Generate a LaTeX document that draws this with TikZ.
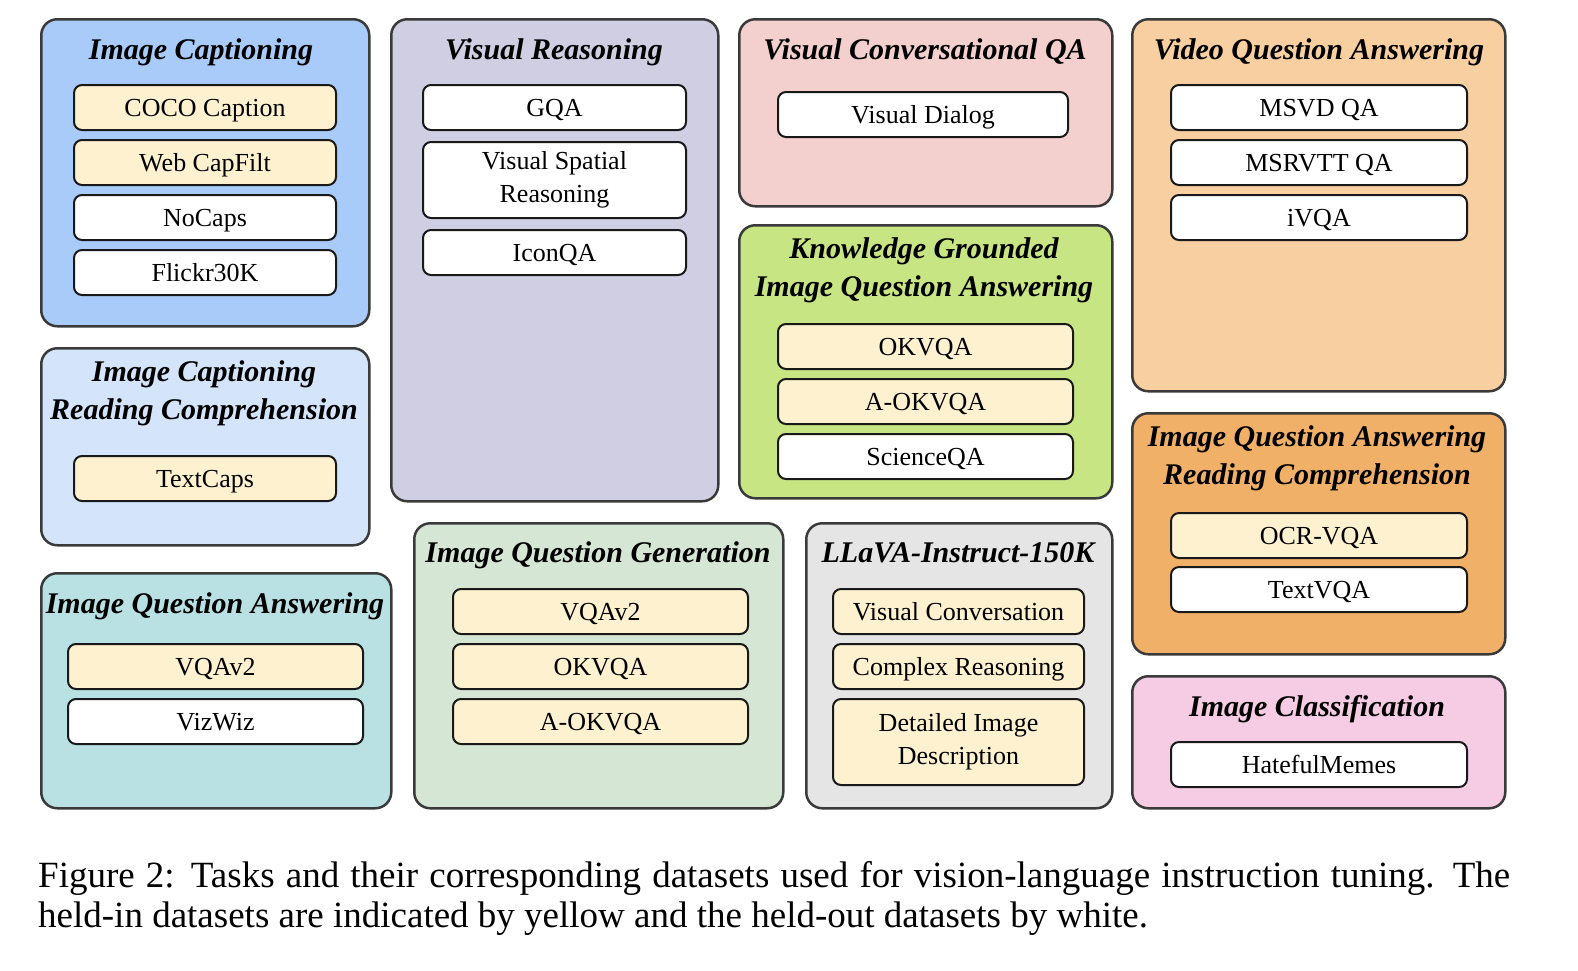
\documentclass[tikz,border=0pt]{standalone}
\usepackage{fontspec}
\setmainfont{Liberation Serif}
\newcommand\itemfnt{\fontsize{26}{33}\selectfont}
\newcommand\ttlfnt{\fontsize{30}{38}\selectfont\bfseries\itshape}
\definecolor{cIC}{HTML}{A9CBF9}
\definecolor{cICRC}{HTML}{D4E5FB}
\definecolor{cIQA}{HTML}{B9E1E4}
\definecolor{cVR}{HTML}{D0CEE2}
\definecolor{cIQG}{HTML}{D6E6D4}
\definecolor{cVCQA}{HTML}{F3CFCD}
\definecolor{cKG}{HTML}{C8E584}
\definecolor{cLL}{HTML}{E5E5E5}
\definecolor{cVQA}{HTML}{F7CFA0}
\definecolor{cIQARC}{HTML}{F1B068}
\definecolor{cICL}{HTML}{F6CBE4}
\definecolor{cY}{HTML}{FDF1CF}
\definecolor{cBorder}{HTML}{3A3A3A}
\tikzset{
  panel/.style={draw=cBorder, line width=2.5pt, rounded corners=16pt, inner sep=0pt, anchor=north west},
  itembase/.style={draw=black!90, line width=2pt, rounded corners=8pt, inner sep=0pt, font=\itemfnt, align=center},
  item/.style={itembase, text height=18pt, text depth=0pt},
  ttl/.style={font=\ttlfnt, align=center, inner sep=0pt},
  capt/.style={font=\fontsize{37}{40}\selectfont, text width=1472pt, align=justify, inner sep=0pt, anchor=base west}
}
% panel: name, x1, y1, x2, y2, colour
\newcommand\mypanel[6]{\node[panel, fill=#6, minimum width={#4-#2}, minimum height={#5-#3}] (#1) at (#2,#3) {};}
% item: name, x1, y1, x2, y2, fill, text
\newcommand\myitem[7]{\node[item, fill=#6, minimum width={#4-#2}, minimum height={#5-#3}] (#1) at ({(#2+#4)/2},{(#3+#5)/2}) {#7};}
\begin{document}
\begin{tikzpicture}[x=1pt, y=-1pt]
\useasboundingbox (0,0) rectangle (1578,970);
% panels
\mypanel{pIC}{40}{18}{368}{325}{cIC}
\mypanel{pICRC}{40}{347}{368}{544}{cICRC}
\mypanel{pIQA}{40}{572}{390}{807}{cIQA}
\mypanel{pVR}{390}{18}{717}{500}{cVR}
\mypanel{pIQG}{413}{522}{782}{807}{cIQG}
\mypanel{pVCQA}{738}{18}{1111}{205}{cVCQA}
\mypanel{pKG}{738}{224}{1111}{497}{cKG}
\mypanel{pLL}{805}{522}{1111}{807}{cLL}
\mypanel{pVQA}{1131}{18}{1504}{390}{cVQA}
\mypanel{pIQARC}{1131}{412}{1504}{653}{cIQARC}
\mypanel{pICL}{1131}{675}{1504}{807}{cICL}
% titles
\node[ttl, anchor=base] (tIC) at (201,59) {Image Captioning};
\node[ttl, anchor=center] (tICRC) at (204,393) {Image Captioning\\Reading Comprehension};
\node[ttl, anchor=base] (tIQA) at (215,613) {Image Question Answering};
\node[ttl, anchor=base] (tVR) at (554,59) {Visual Reasoning};
\node[ttl, anchor=base] (tIQG) at (598,562) {Image Question Generation};
\node[ttl, anchor=base] (tVCQA) at (925,59) {Visual Conversational QA};
\node[ttl, anchor=center] (tKG) at (924,270) {Knowledge Grounded\\Image Question Answering};
\node[ttl, anchor=base] (tLL) at (958,562) {LLaVA-Instruct-150K};
\node[ttl, anchor=base] (tVQA) at (1319,59) {Video Question Answering};
\node[ttl, anchor=center] (tIQARC) at (1317,458) {Image Question Answering\\Reading Comprehension};
\node[ttl, anchor=base] (tICL) at (1317,716) {Image Classification};
% items
\myitem{ic1}{74}{85}{336}{130}{cY}{COCO Caption}
\myitem{ic2}{74}{140}{336}{185}{cY}{Web CapFilt}
\myitem{ic3}{74}{195}{336}{240}{white}{NoCaps}
\myitem{ic4}{74}{250}{336}{295}{white}{Flickr30K}
\myitem{icrc1}{74}{456}{336}{501}{cY}{TextCaps}
\myitem{iqa1}{68}{644}{363}{689}{cY}{VQAv2}
\myitem{iqa2}{68}{699}{363}{744}{white}{VizWiz}
\myitem{vr1}{423}{85}{686}{130}{white}{GQA}
\node[itembase, fill=white, minimum width=263, minimum height=76] (vr2) at (554.5,180) {Visual Spatial\\Reasoning};
\myitem{vr3}{423}{230}{686}{275}{white}{IconQA}
\myitem{iqg1}{453}{589}{748}{634}{cY}{VQAv2}
\myitem{iqg2}{453}{644}{748}{689}{cY}{OKVQA}
\myitem{iqg3}{453}{699}{748}{744}{cY}{A-OKVQA}
\myitem{vcqa1}{778}{92}{1068}{137}{white}{Visual Dialog}
\myitem{kg1}{778}{324}{1073}{369}{cY}{OKVQA}
\myitem{kg2}{778}{379}{1073}{424}{cY}{A-OKVQA}
\myitem{kg3}{778}{434}{1073}{479}{white}{ScienceQA}
\myitem{ll1}{833}{589}{1084}{634}{cY}{Visual Conversation}
\myitem{ll2}{833}{644}{1084}{689}{cY}{Complex Reasoning}
\node[itembase, fill=cY, minimum width=251, minimum height=86] (ll3) at (958.5,742) {Detailed Image\\Description};
\myitem{vqa1}{1171}{85}{1467}{130}{white}{MSVD QA}
\myitem{vqa2}{1171}{140}{1467}{185}{white}{MSRVTT QA}
\myitem{vqa3}{1171}{195}{1467}{240}{white}{iVQA}
\myitem{iqarc1}{1171}{513}{1467}{558}{cY}{OCR-VQA}
\myitem{iqarc2}{1171}{567}{1467}{612}{white}{TextVQA}
\myitem{icl1}{1171}{742}{1467}{787}{white}{HatefulMemes}
% caption
\node[capt] (cap) at (38,887) {Figure 2: Tasks and their corresponding datasets used for vision-language instruction tuning. The\linebreak held-in datasets are indicated by yellow and the held-out datasets by white.};
\end{tikzpicture}
\end{document}
